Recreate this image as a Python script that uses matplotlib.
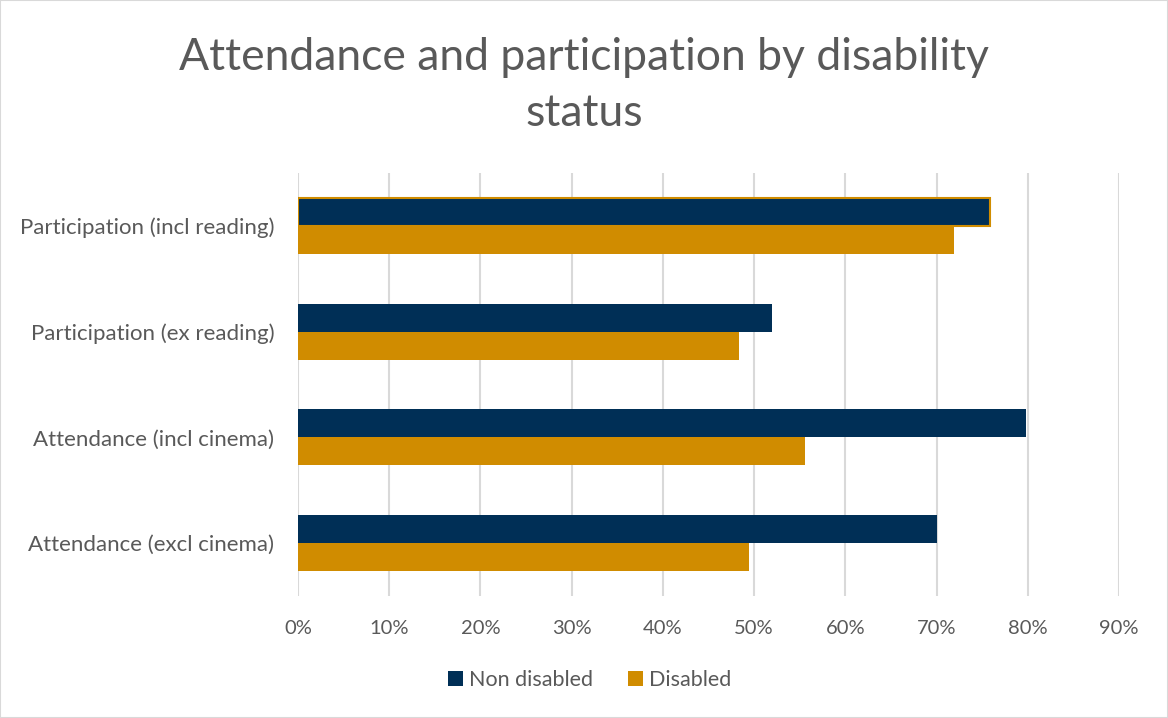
import matplotlib.pyplot as plt
import numpy as np
from matplotlib.patches import Rectangle

plt.rcParams['font.family'] = ['Lato', 'DejaVu Sans']

categories = ["Attendance (excl cinema)", "Attendance (incl cinema)",
              "Participation (ex reading)", "Participation (incl reading)"]
non_disabled = [70.1, 79.8, 52.0, 75.9]
disabled = [49.4, 55.6, 48.3, 71.9]
xticks = [0, 10, 20, 30, 40, 50, 60, 70, 80, 90]

NAVY = "#002f56"
GOLD = "#d08c00"
GREY = "#595959"

fig = plt.figure(figsize=(11.68, 7.18), dpi=100)
ax = fig.add_axes([298 / 1168, 1 - 596 / 718, (1119 - 298) / 1168, (596 - 173) / 718])

y = np.arange(len(categories))
h = 0.265
bars_nd = ax.barh(y + h / 2, non_disabled, height=h, color=NAVY, label="Non disabled", zorder=3)
ax.barh(y - h / 2, disabled, height=h, color=GOLD, label="Disabled", zorder=3)
# top bar has a gold outline in the original
bars_nd[-1].set_edgecolor(GOLD)
bars_nd[-1].set_linewidth(1.5)

ax.set_xlim(0, 90)
ax.set_ylim(-0.5, len(categories) - 0.5)
ax.set_xticks(xticks)
ax.set_xticklabels([f"{t}%" for t in xticks])
ax.set_yticks(y)
ax.set_yticklabels(categories)
ax.tick_params(axis='both', length=0, colors=GREY)
ax.tick_params(axis='x', pad=17, labelsize=14.5)
ax.tick_params(axis='y', pad=17, labelsize=16)
ax.grid(axis='x', color="#d9d9d9", linewidth=1.5, zorder=0)
for s in ax.spines.values():
    s.set_visible(False)

fig.text(0.5, 1 - 57 / 718, "Attendance and participation by disability", ha='center', va='center',
         fontsize=32, color=GREY)
fig.text(0.5, 1 - 114 / 718, "status", ha='center', va='center', fontsize=32, color=GREY)

fig.legend(loc='center', bbox_to_anchor=(0.505, 1 - 680 / 718), ncol=2, frameon=False,
           fontsize=15.5, labelcolor=GREY, handlelength=0.7, handleheight=0.7,
           handletextpad=0.3, columnspacing=1.6)

fig.patches.append(Rectangle((0, 0), 1, 1, transform=fig.transFigure, fill=False,
                             edgecolor="#d9d9d9", linewidth=1.5))

fig.savefig("out.png", dpi=100)
